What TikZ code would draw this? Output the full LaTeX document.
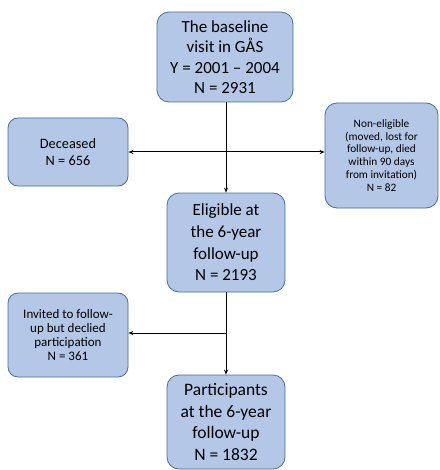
\documentclass[tikz,border=0pt]{standalone}
\usepackage{fontspec}
\setmainfont{Carlito}
\usetikzlibrary{arrows.meta}
\definecolor{boxfill}{HTML}{B4C7E7}
\definecolor{boxline}{HTML}{41719C}
\tikzset{
  flowbox/.style={draw=boxline, line width=0.8pt, fill=boxfill, rounded corners=12pt, align=center, inner sep=0pt},
  bigtext/.style={font=\fontsize{17}{20.5}\selectfont},
  smalltext/.style={font=\fontsize{12}{13.5}\selectfont},
  conn/.style={line width=1pt, -{Stealth[length=5pt,width=4pt]}}
}
\begin{document}
\begin{tikzpicture}[x=1pt,y=-1pt]
\useasboundingbox (0,0) rectangle (439,470);
\node[flowbox, bigtext, minimum width=136pt, minimum height=90pt] (base) at (225,57) {The baseline\\visit in GÅS\\Y = 2001 – 2004\\N = 2931};
\node[flowbox, smalltext, rounded corners=10pt, minimum width=120pt, minimum height=68pt, font=\fontsize{14.3}{17}\selectfont] (dec) at (68,152) {Deceased\\N = 656};
\node[flowbox, smalltext, rounded corners=12pt, minimum width=113pt, minimum height=105pt, font=\fontsize{11.3}{12.8}\selectfont] (non) at (381.5,155.5) {Non-eligible\\(moved, lost for\\follow-up, died\\within 90 days\\from invitation)\\N = 82};
\node[flowbox, bigtext, minimum width=118pt, minimum height=99pt, font=\fontsize{17}{21.7}\selectfont] (elig) at (226,242.5) {Eligible at\\the 6-year\\follow-up\\N = 2193};
\node[flowbox, smalltext, rounded corners=10pt, minimum width=120pt, minimum height=84pt, font=\fontsize{13}{13.9}\selectfont] (inv) at (68,335) {Invited to follow-\\up but declied\\participation\\N = 361};
\node[flowbox, bigtext, minimum width=118pt, minimum height=94pt, font=\fontsize{17.5}{21.7}\selectfont] (part) at (226,422) {Participants\\at the 6-year\\follow-up\\N = 1832};
\coordinate (j1) at (226,152);
\coordinate (j2) at (226,333);
\draw[conn] (base.south -| j1) -- (elig.north);
\draw[conn] (j1) -- (dec.east |- j1);
\draw[conn] (j1) -- (non.west |- j1);
\draw[conn] (elig.south) -- (part.north);
\draw[conn] (j2) -- (inv.east |- j2);
\end{tikzpicture}
\end{document}
